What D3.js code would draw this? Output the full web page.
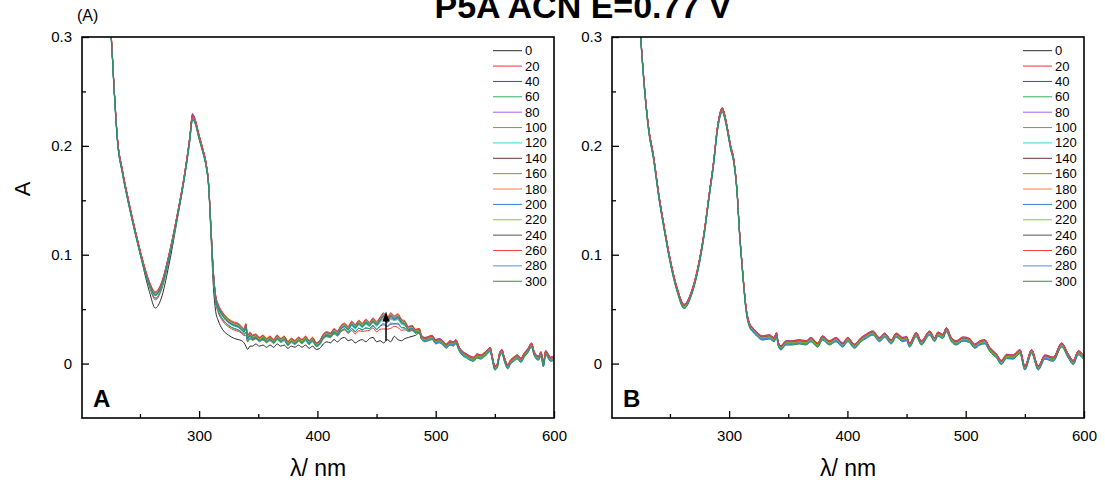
<!DOCTYPE html>
<html><head><meta charset="utf-8">
<script src="https://cdn.jsdelivr.net/npm/d3@7"></script>
<style>body{margin:0;background:#fff}svg{display:block;font-family:"Liberation Sans",Arial,sans-serif}</style>
</head><body>
<svg id="c" width="1105" height="485"></svg>
<script>
// ---------- DATA ----------
const times = [0,20,40,60,80,100,120,140,160,180,200,220,240,260,280,300];
const colors = ["#2b2b2b","#f03030","#2050d0","#30b060","#a060f0","#c08020","#30d8d8","#703030",
                "#909020","#ff7a40","#3080d0","#90c830","#555555","#ff4040","#4f90f0","#2a9050"];
const xTicks = [300,400,500,600];
const yTicks = [0,0.1,0.2,0.3];

// Panel A: wavelengths, last spectrum (300 s) and first spectrum (0 s)
const wlA = [220,223,225.7,228,231,235,240,246,252,258,263,268,274,281,288,292,294.5,296,300,303,306,308,310,312,314,316,320,325,330,333,336,338,339.5,341,343,345,348,351,354,357,360,363,366,369,372,375,378,381,384,387,390,393,396,399,402,405,408,411,414,417,420,423,426,429,432,435,438,441,444,447,450,453,456,459,462,465,468,471,474,477,480,483,486,488,491,494,497,500,503,506,509,512,515,517,520,523,526,529,532,535,538,541,544,546,548,550,552,554,556,558,561,563,566,569,572,575,578,581,583,585,587,589,591,593,595,597,600];
const lastA = [0.360,0.330,0.300,0.255,0.205,0.177,0.150,0.121,0.095,0.074,0.065,0.073,0.097,0.133,0.175,0.205,0.226,0.224,0.208,0.196,0.182,0.165,0.125,0.085,0.062,0.054,0.046,0.040,0.037,0.036,0.033,0.031,0.036,0.025,0.028,0.025,0.026,0.023,0.025,0.022,0.024,0.021,0.025,0.022,0.024,0.019,0.022,0.020,0.023,0.021,0.024,0.020,0.023,0.018,0.020,0.026,0.028,0.027,0.031,0.029,0.034,0.036,0.033,0.038,0.035,0.039,0.036,0.040,0.037,0.041,0.038,0.042,0.046,0.041,0.046,0.043,0.045,0.040,0.038,0.033,0.034,0.030,0.031,0.024,0.022,0.023,0.024,0.020,0.021,0.019,0.016,0.019,0.018,0.020,0.013,0.009,0.007,0.005,0.004,0.007,0.006,0.008,0.011,0.013,0.004,-0.004,-0.002,0.008,0.011,0.004,-0.003,0.001,0.004,0.006,0.003,0.008,0.012,0.017,0.010,0.006,0.005,0.009,-0.001,0.010,0.007,0.004,0.005];
const firstA = [0.360,0.330,0.300,0.255,0.205,0.177,0.150,0.120,0.092,0.066,0.051,0.060,0.088,0.129,0.174,0.206,0.229,0.225,0.208,0.196,0.181,0.162,0.118,0.072,0.048,0.040,0.031,0.026,0.023,0.022,0.021,0.019,0.016,0.013,0.016,0.016,0.018,0.016,0.017,0.015,0.017,0.015,0.018,0.016,0.017,0.014,0.016,0.015,0.017,0.015,0.017,0.014,0.016,0.013,0.014,0.018,0.020,0.019,0.022,0.020,0.023,0.024,0.021,0.022,0.019,0.021,0.022,0.020,0.023,0.024,0.020,0.021,0.019,0.022,0.020,0.025,0.022,0.021,0.023,0.024,0.025,0.026,0.028,0.024,0.022,0.023,0.024,0.020,0.021,0.019,0.016,0.019,0.018,0.020,0.013,0.009,0.007,0.005,0.004,0.007,0.006,0.008,0.011,0.013,0.004,-0.004,-0.002,0.008,0.011,0.004,-0.003,0.001,0.004,0.006,0.003,0.008,0.012,0.017,0.010,0.006,0.005,0.009,-0.001,0.010,0.007,0.004,0.005];
// fraction of the change reached by each spectrum
const progressA = [0,0.40,0.58,0.70,0.75,0.79,0.83,0.86,0.88,0.90,0.92,0.94,0.96,0.97,0.99,1.0];
// small per-spectrum vertical scatter
const scatter = [0.0015,0.002,0.001,-0.001,0.002,0.0005,-0.0005,0.0015,0,0.001,-0.001,0.0005,0.001,0.0015,-0.0015,-0.002];

// Panel B: wavelengths and mean spectrum
const wlB = [220,223,225.2,228.6,232,236,240.7,245,250.6,256,262,268,274.6,279,283,287,290,294.3,296,298.6,301,304.2,307,308.5,310.8,312.5,314.1,317,320,322.6,328.2,333.9,338.1,340,341.5,343.8,348,353.6,359.3,365,369.2,374.8,379,384.7,390.4,396,400.3,405.9,411.6,415.8,421.5,427.1,431.4,437,441.3,446.9,450,452.5,458.2,462.5,469.5,473.7,476.5,480.7,483.6,487.9,492,497.7,503.4,507.6,512,516.1,520.3,526,530.2,534.5,540.1,545.8,550,555.7,561.3,567,574,581.1,586.7,590.9,595.2,599.4];
const meanB = [0.370,0.335,0.300,0.251,0.215,0.190,0.153,0.125,0.092,0.068,0.0525,0.064,0.092,0.120,0.153,0.185,0.2145,0.233,0.228,0.2145,0.200,0.184,0.153,0.125,0.092,0.070,0.052,0.036,0.031,0.028,0.0235,0.0245,0.022,0.0266,0.018,0.0144,0.019,0.019,0.020,0.019,0.022,0.017,0.0235,0.019,0.022,0.017,0.022,0.016,0.022,0.025,0.028,0.022,0.026,0.020,0.026,0.022,0.023,0.017,0.0266,0.019,0.028,0.022,0.027,0.025,0.031,0.022,0.019,0.0225,0.021,0.016,0.019,0.020,0.013,0.007,0.001,0.0065,0.006,0.011,-0.004,0.011,-0.004,0.006,0.004,0.017,0.007,0.001,0.0098,0.006];

// arrow in panel A: [wavelength, from A, to A]
const arrowA = [458, 0.021, 0.047];

// ---------- DRAW ----------
const svg = d3.select("#c");
const plotTop = 37, plotBottom = 418;
const panels = [
  {label:"A", left:82, right:554},
  {label:"B", left:612, right:1084}
];
const y = d3.scaleLinear().domain([-0.05,0.3]).range([plotBottom, plotTop]);

function seriesA(i){
  return wlA.map((w,j)=>[w, firstA[j] + progressA[i]*(lastA[j]-firstA[j]) + (i>0?scatter[i]:0)]);
}
function seriesB(i){
  return wlB.map((w,j)=>[w, meanB[j] + scatter[i]]);
}

panels.forEach((p,pi)=>{
  const x = d3.scaleLinear().domain([201,600]).range([p.left, p.right]);
  const g = svg.append("g");
  const cid = "clip"+pi;
  svg.append("clipPath").attr("id",cid).append("rect")
    .attr("x",p.left).attr("y",plotTop).attr("width",p.right-p.left).attr("height",plotBottom-plotTop);

  const line = d3.line().x(d=>x(d[0])).y(d=>y(d[1])).curve(d3.curveMonotoneX);
  const plot = g.append("g").attr("clip-path",`url(#${cid})`);
  times.forEach((t,i)=>{
    const data = pi===0 ? seriesA(i) : seriesB(i);
    plot.append("path").attr("d",line(data)).attr("fill","none")
      .attr("stroke",colors[i]).attr("stroke-width",1);
  });

  const xAxis = d3.axisBottom(x).tickValues(xTicks).tickSize(-7).tickPadding(12).tickFormat(d3.format("d"));
  g.append("g").attr("transform",`translate(0,${plotBottom})`).call(xAxis);
  const xMinor = d3.axisBottom(x).tickValues([250,350,450,550]).tickSize(-4).tickFormat("");
  g.append("g").attr("transform",`translate(0,${plotBottom})`).call(xMinor);
  const yAxis = d3.axisLeft(y).tickValues(yTicks).tickSize(-7).tickPadding(10)
    .tickFormat(d=> d===0 ? "0" : d3.format(".1f")(d));
  g.append("g").attr("transform",`translate(${p.left},0)`).call(yAxis);
  const yMinor = d3.axisLeft(y).tickValues([0.05,0.15,0.25]).tickSize(-4).tickFormat("");
  g.append("g").attr("transform",`translate(${p.left},0)`).call(yMinor);
  g.selectAll(".domain").remove();
  g.selectAll(".tick line").attr("stroke","#000").attr("stroke-width",1.3);
  g.selectAll(".tick text").attr("font-size",15).attr("fill","#000")
    .attr("font-family",'"Liberation Sans",Arial,sans-serif');

  g.append("rect").attr("x",p.left).attr("y",plotTop).attr("width",p.right-p.left).attr("height",plotBottom-plotTop)
    .attr("fill","none").attr("stroke","#000").attr("stroke-width",1.6);

  g.append("text").attr("x",p.left+11).attr("y",plotBottom-11).attr("font-size",24).attr("font-weight","bold")
    .text(p.label);

  g.append("text").attr("x",(p.left+p.right)/2).attr("y",476).attr("text-anchor","middle")
    .attr("font-size",23).text("λ/ nm");

  const lx = p.right - 61;
  times.forEach((t,i)=>{
    const ly = 50.7 + i*15.37;
    g.append("line").attr("x1",lx).attr("x2",lx+29).attr("y1",ly).attr("y2",ly)
      .attr("stroke",colors[i]).attr("stroke-width",1);
    g.append("text").attr("x",lx+32).attr("y",ly).attr("dy","0.35em").attr("font-size",13).text(t);
  });

  if(pi===0){
    const ax = x(arrowA[0]);
    g.append("line").attr("x1",ax).attr("x2",ax).attr("y1",y(arrowA[1])).attr("y2",y(arrowA[2])+8)
      .attr("stroke","#000").attr("stroke-width",1.5);
    g.append("path").attr("d",`M${ax-3.5},${y(arrowA[2])+9} L${ax},${y(arrowA[2])-1} L${ax+3.5},${y(arrowA[2])+9} Z`)
      .attr("fill","#000");
  }
});

svg.append("text").attr("transform","translate(30,189) rotate(-90)").attr("text-anchor","middle")
  .attr("font-size",22).text("A");
svg.append("text").attr("x",77).attr("y",21).attr("font-size",16).text("(A)");
svg.append("text").attr("x",583).attr("y",18).attr("text-anchor","middle").attr("font-size",34)
  .attr("font-weight","bold").text("P5A ACN E=0.77 V");
</script>
</body></html>
